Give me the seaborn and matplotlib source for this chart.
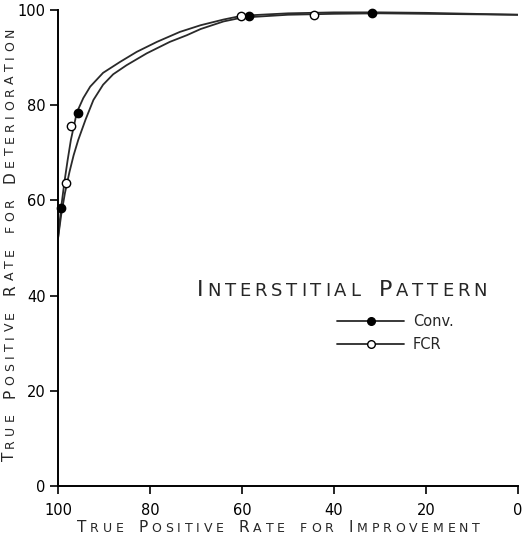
import numpy as np
import pandas as pd
import matplotlib
matplotlib.use('Agg')
import matplotlib.pyplot as plt
from matplotlib.lines import Line2D
import seaborn as sns

# curves (x = TPR improvement, y = TPR deterioration)
conv_curve_x = [100, 99.3, 98.6, 97.9, 97.2, 95.9, 94.5, 93.0, 90.2, 86.5, 82.9, 78.5,
                73.5, 69.0, 64, 60, 50, 40, 30, 20, 10, 0]
conv_curve_y = [52, 58.6, 63.9, 68.5, 72.7, 78.5, 81.5, 83.9, 86.8, 89.1, 91.2, 93.3,
                95.4, 96.8, 98.0, 98.8, 99.3, 99.5, 99.5, 99.4, 99.2, 99.0]
fcr_curve_x = [100, 99.3, 98.5, 97.5, 96.6, 95.6, 94.0, 92.3, 90.2, 88.0, 85.1, 80.7,
               75.7, 72.0, 69.0, 64, 60, 50, 40, 30, 20, 10, 0]
fcr_curve_y = [52, 57.0, 61.5, 66.0, 69.5, 72.7, 77.0, 81.1, 84.3, 86.5, 88.4, 90.9,
               93.3, 94.7, 96.0, 97.6, 98.4, 99.0, 99.2, 99.3, 99.2, 99.1, 99.0]

# measured points
conv_pts_x = [99.3, 95.7, 58.5, 31.7]
conv_pts_y = [58.4, 78.4, 98.7, 99.4]
fcr_pts_x = [98.3, 97.1, 60.2, 44.3]
fcr_pts_y = [63.7, 75.7, 98.7, 99.0]

ticks = [0, 20, 40, 60, 80, 100]
series_labels = ['Conv.', 'FCR']

sns.set_style('ticks')
plt.rcParams['font.family'] = ['DejaVu Sans']

W, H = 525, 543
fig = plt.figure(figsize=(W / 100, H / 100), dpi=100)
ax = fig.add_axes([58 / W, 1 - 486 / H, 460 / W, 476 / H])

line_col = '#2a2a2a'
sns.lineplot(x=conv_curve_x, y=conv_curve_y, sort=False, estimator=None,
             color=line_col, linewidth=1.3, ax=ax)
sns.lineplot(x=fcr_curve_x, y=fcr_curve_y, sort=False, estimator=None,
             color=line_col, linewidth=1.3, ax=ax)
sns.scatterplot(x=conv_pts_x, y=conv_pts_y, color='black', edgecolor='black',
                s=36, linewidth=1.0, zorder=5, clip_on=False, ax=ax)
sns.scatterplot(x=fcr_pts_x, y=fcr_pts_y, color='white', edgecolor='black',
                s=36, linewidth=1.0, zorder=5, clip_on=False, ax=ax)

ax.set_xlim(100, 0)
ax.set_ylim(0, 100)
ax.set_xticks(ticks)
ax.set_yticks(ticks)
ax.tick_params(length=6, width=1.2, colors='black', labelsize=10.5)
ax.tick_params(axis='x', pad=6)
ax.tick_params(axis='y', pad=3)
for s in ['top', 'right']:
    ax.spines[s].set_visible(False)
for s in ['left', 'bottom']:
    ax.spines[s].set_linewidth(1.4)
    ax.spines[s].set_color('black')
ax.set_xlabel('')
ax.set_ylabel('')

handles = [
    Line2D([], [], color=line_col, lw=1.3, marker='o', markersize=5.5,
           markerfacecolor='black', markeredgecolor='black'),
    Line2D([], [], color=line_col, lw=1.3, marker='o', markersize=5.5,
           markerfacecolor='white', markeredgecolor='black'),
]
ax.legend(handles, series_labels, loc='upper left', bbox_to_anchor=(0.607, 0.362),
          frameon=False, fontsize=10.5, handlelength=4.6, handletextpad=0.6,
          labelspacing=0.55, borderpad=0, borderaxespad=0)

renderer = fig.canvas.get_renderer()


def small_caps(text, x0, y0, length, big, small, rotation=0):
    # draw letters one by one: capitals big, lowercase as small capitals
    pieces = []
    for ch in text:
        if ch == ' ':
            pieces.append(None)
            continue
        size = big if ch.isupper() else small
        t = fig.text(0, 0, ch.upper(), fontsize=size, rotation=rotation,
                     rotation_mode='anchor', ha='left', va='baseline')
        pieces.append(t)
    widths = []
    for t in pieces:
        if t is None:
            widths.append(small * 1.39 * 0.6)
        else:
            bb = t.get_window_extent(renderer)
            widths.append(bb.width if rotation == 0 else bb.height)
    track = (length - sum(widths)) / (len(pieces) - 1)
    ang = np.deg2rad(rotation)
    pos = 0.0
    for t, w in zip(pieces, widths):
        if t is not None:
            px = x0 + pos * np.cos(ang)
            py = y0 + pos * np.sin(ang)
            t.set_position((px / W, py / H))
        pos += w + track


small_caps('True Positive Rate for Improvement', 77, H - 532, 403, 11, 9)
small_caps('True Positive Rate for Deterioration', 14, H - 461, 433, 11, 9, rotation=90)
small_caps('Interstitial Pattern', 197, H - 296, 290, 16, 13)

fig.savefig('out.png', dpi=100)
